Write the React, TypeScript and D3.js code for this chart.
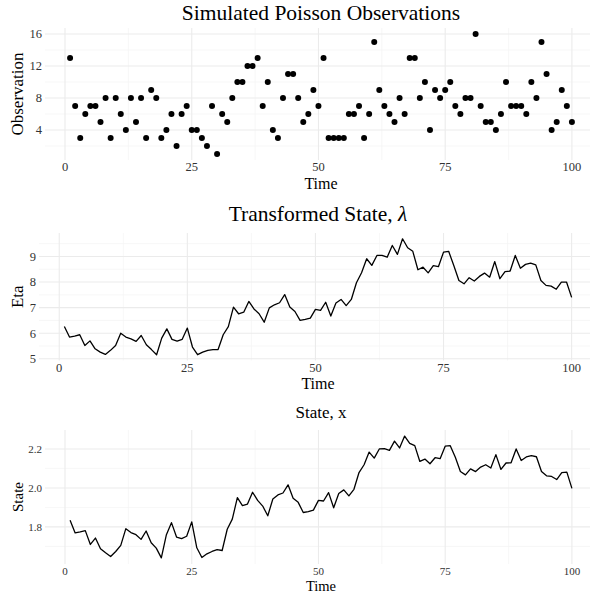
import * as d3 from "d3";
import type { ReactNode } from "react";

const WIDTH = 590;
const HEIGHT = 595;
const FONT = "'Liberation Serif', 'Times New Roman', serif";

// simulated poisson counts, t = 1..100
const observations = [
  13, 7, 3, 6, 7, 7, 5, 8, 3, 8,
  6, 4, 8, 5, 8, 3, 9, 8, 3, 4,
  6, 2, 6, 7, 4, 4, 3, 2, 7, 1,
  6, 5, 8, 10, 10, 12, 12, 13, 7, 10,
  4, 3, 8, 11, 11, 8, 5, 6, 9, 7,
  13, 3, 3, 3, 3, 6, 6, 7, 3, 6,
  15, 9, 7, 6, 5, 8, 6, 13, 13, 8,
  10, 4, 9, 8, 9, 10, 7, 6, 8, 8,
  16, 7, 5, 5, 4, 6, 10, 7, 7, 7,
  6, 10, 8, 15, 11, 4, 5, 9, 7, 5,
];

// transformed state (lambda)
const eta = [
  6.26, 5.85, 5.89, 5.94, 5.52, 5.7, 5.39, 5.26, 5.17, 5.33,
  5.52, 6.0, 5.85, 5.78, 5.68, 5.91, 5.55, 5.36, 5.16, 5.81,
  6.17, 5.76, 5.69, 5.76, 6.2, 5.46, 5.16, 5.26, 5.33, 5.36,
  5.36, 5.94, 6.26, 7.02, 6.76, 6.82, 7.24, 6.95, 6.76, 6.43,
  6.99, 7.11, 7.19, 7.51, 7.02, 6.85, 6.5, 6.54, 6.59, 6.93,
  6.89, 7.21, 6.67, 7.18, 7.32, 7.08, 7.32, 7.97, 8.36, 8.91,
  8.65, 9.04, 9.04, 8.97, 9.43, 9.08, 9.69, 9.34, 9.2, 8.48,
  8.58, 8.36, 8.64, 8.6, 9.17, 9.2, 8.65, 8.06, 7.93, 8.17,
  8.04, 8.22, 8.35, 8.19, 8.8, 8.13, 8.41, 8.43, 9.04, 8.54,
  8.69, 8.74, 8.67, 8.06, 7.87, 7.84, 7.72, 8.0, 8.0, 7.4,
];

// latent state x
const state = [
  1.834, 1.769, 1.774, 1.781, 1.71, 1.743, 1.688, 1.667, 1.648, 1.674,
  1.705, 1.791, 1.771, 1.76, 1.736, 1.779, 1.719, 1.691, 1.641, 1.76,
  1.822, 1.748, 1.74, 1.752, 1.826, 1.693, 1.643, 1.662, 1.674, 1.683,
  1.679, 1.788, 1.84, 1.95, 1.909, 1.917, 1.978, 1.936, 1.907, 1.857,
  1.943, 1.964, 1.974, 2.016, 1.947, 1.926, 1.874, 1.878, 1.886, 1.936,
  1.933, 1.976, 1.898, 1.971, 1.99, 1.959, 1.993, 2.079, 2.119, 2.184,
  2.153, 2.2, 2.202, 2.193, 2.24, 2.205, 2.266, 2.229, 2.217, 2.136,
  2.148, 2.124, 2.155, 2.15, 2.214, 2.217, 2.157, 2.084, 2.067, 2.098,
  2.084, 2.107, 2.119, 2.102, 2.171, 2.095, 2.128, 2.129, 2.2, 2.141,
  2.159, 2.166, 2.16, 2.084, 2.062, 2.059, 2.043, 2.079, 2.081, 1.998,
];

const xMajor = [0, 25, 50, 75, 100];
const xMinor = [12.5, 37.5, 62.5, 87.5];

const obsMajor = [4, 8, 12, 16];
const obsMinor = [2, 6, 10, 14];
const etaMajor = [5, 6, 7, 8, 9];
const etaMinor = [5.5, 6.5, 7.5, 8.5, 9.5];
const stateMajor = [1.8, 2.0, 2.2];
const stateMinor = [1.7, 1.9, 2.1];

// ggplot-style 5% expansion
const expand = (vals: number[]): [number, number] => {
  const [a, b] = d3.extent(vals) as [number, number];
  const pad = (b - a) * 0.05;
  return [a - pad, b + pad];
};

type PanelProps = {
  values: number[];
  kind: "point" | "line";
  left: number;
  top: number;
  bottom: number;
  yMajor: number[];
  yMinor: number[];
  fmt: (v: number) => string;
  title: ReactNode;
  titleSize: number;
  titleY: number;
  yLabel: string;
  yLabelSize: number;
  tickSize: number;
  timeSize: number;
  timeY: number;
};

const RIGHT = 597;

function Panel(p: PanelProps) {
  const time = p.values.map((_, i) => i + 1);
  const x = d3.scaleLinear().domain(expand(time)).range([p.left, RIGHT]);
  const y = d3.scaleLinear().domain(expand(p.values)).range([p.bottom, p.top]);
  const pts = p.values.map((v, i) => ({ t: time[i], v }));
  const path = d3.line<{ t: number; v: number }>().x(d => x(d.t)).y(d => y(d.v))(pts) ?? "";
  const cx = (p.left + RIGHT) / 2;

  return (
    <g fontFamily={FONT}>
      {/* grid */}
      {p.yMinor.map(v => (
        <line key={"ym" + v} x1={p.left} x2={RIGHT} y1={y(v)} y2={y(v)} stroke="#f4f4f4" strokeWidth={0.7} />
      ))}
      {xMinor.map(v => (
        <line key={"xm" + v} x1={x(v)} x2={x(v)} y1={p.top} y2={p.bottom} stroke="#f4f4f4" strokeWidth={0.7} />
      ))}
      {p.yMajor.map(v => (
        <line key={"yM" + v} x1={p.left} x2={RIGHT} y1={y(v)} y2={y(v)} stroke="#ebebeb" strokeWidth={1.1} />
      ))}
      {xMajor.map(v => (
        <line key={"xM" + v} x1={x(v)} x2={x(v)} y1={p.top} y2={p.bottom} stroke="#ebebeb" strokeWidth={1.1} />
      ))}

      {/* data */}
      {p.kind === "line" ? (
        <path d={path} fill="none" stroke="black" strokeWidth={1.3} strokeLinejoin="round" />
      ) : (
        pts.map(d => <circle key={d.t} cx={x(d.t)} cy={y(d.v)} r={3} fill="black" />)
      )}

      {/* axes text */}
      {p.yMajor.map(v => (
        <text key={"yt" + v} x={p.left - 3} y={y(v)} dy="0.35em" textAnchor="end" fontSize={p.tickSize} fill="#333">
          {p.fmt(v)}
        </text>
      ))}
      {xMajor.map(v => (
        <text key={"xt" + v} x={x(v)} y={p.bottom + 11} textAnchor="middle" fontSize={p.tickSize} fill="#333">
          {v}
        </text>
      ))}
      <text x={cx} y={p.timeY} textAnchor="middle" fontSize={p.timeSize}>Time</text>
      <text
        transform={`translate(23,${(p.top + p.bottom) / 2}) rotate(-90)`}
        textAnchor="middle"
        fontSize={p.yLabelSize}>
        {p.yLabel}
      </text>
      <text x={cx} y={p.titleY} textAnchor="middle" fontSize={p.titleSize}>{p.title}</text>
    </g>
  );
}

export default function App() {
  return (
    <svg width={WIDTH} height={HEIGHT} style={{ position: "absolute", left: 0, top: 0, background: "white" }}>
      <Panel
        values={observations}
        kind="point"
        left={45}
        top={28}
        bottom={160}
        yMajor={obsMajor}
        yMinor={obsMinor}
        fmt={v => String(v)}
        title="Simulated Poisson Observations"
        titleSize={21.5}
        titleY={20}
        yLabel="Observation"
        yLabelSize={17}
        tickSize={12.5}
        timeSize={16}
        timeY={188.5}
      />
      <Panel
        values={eta}
        kind="line"
        left={39}
        top={233}
        bottom={360.5}
        yMajor={etaMajor}
        yMinor={etaMinor}
        fmt={v => String(v)}
        title={<>Transformed State, <tspan fontStyle="italic">λ</tspan></>}
        titleSize={21.5}
        titleY={221}
        yLabel="Eta"
        yLabelSize={17}
        tickSize={12.5}
        timeSize={16}
        timeY={389}
      />
      <Panel
        values={state}
        kind="line"
        left={45}
        top={430}
        bottom={564}
        yMajor={stateMajor}
        yMinor={stateMinor}
        fmt={d3.format(".1f")}
        title="State, x"
        titleSize={17}
        titleY={418}
        yLabel="State"
        yLabelSize={15}
        tickSize={11}
        timeSize={14.5}
        timeY={590.5}
      />
    </svg>
  );
}
